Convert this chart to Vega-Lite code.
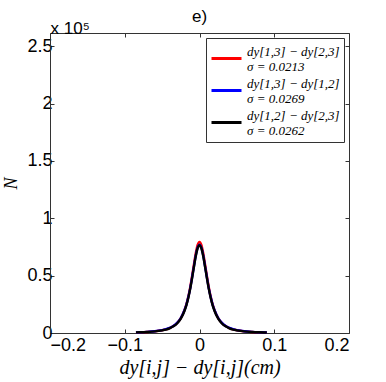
{
  "$schema": "https://vega.github.io/schema/vega-lite/v6.json",
  "width": 299,
  "height": 300,
  "autosize": {"type": "none"},
  "padding": {"left": 50, "top": 33, "right": 37, "bottom": 49},
  "background": "white",
  "title": {"text": "e)", "fontSize": 17, "fontWeight": "normal", "font": "Liberation Sans", "anchor": "middle", "offset": -6, "color": "#000"},
  "config": {
    "view": {"stroke": null},
    "axis": {
      "domainColor": "#333", "tickColor": "#333", "grid": false,
      "labelFont": "Liberation Sans", "labelFontSize": 18, "labelColor": "#000",
      "titleColor": "#000", "tickSize": -4
    }
  },
  "data": {"values": [
    {"s": "dy[1,3] − dy[2,3]|σ = 0.0213", "x": -0.085, "n": 540},
    {"s": "dy[1,3] − dy[2,3]|σ = 0.0213", "x": -0.08, "n": 640},
    {"s": "dy[1,3] − dy[2,3]|σ = 0.0213", "x": -0.07, "n": 930},
    {"s": "dy[1,3] − dy[2,3]|σ = 0.0213", "x": -0.06, "n": 1440},
    {"s": "dy[1,3] − dy[2,3]|σ = 0.0213", "x": -0.05, "n": 2400},
    {"s": "dy[1,3] − dy[2,3]|σ = 0.0213", "x": -0.045, "n": 3150},
    {"s": "dy[1,3] − dy[2,3]|σ = 0.0213", "x": -0.04, "n": 4300},
    {"s": "dy[1,3] − dy[2,3]|σ = 0.0213", "x": -0.035, "n": 6000},
    {"s": "dy[1,3] − dy[2,3]|σ = 0.0213", "x": -0.03, "n": 8700},
    {"s": "dy[1,3] − dy[2,3]|σ = 0.0213", "x": -0.025, "n": 13000},
    {"s": "dy[1,3] − dy[2,3]|σ = 0.0213", "x": -0.02, "n": 20100},
    {"s": "dy[1,3] − dy[2,3]|σ = 0.0213", "x": -0.0175, "n": 25200},
    {"s": "dy[1,3] − dy[2,3]|σ = 0.0213", "x": -0.015, "n": 31700},
    {"s": "dy[1,3] − dy[2,3]|σ = 0.0213", "x": -0.0125, "n": 39750},
    {"s": "dy[1,3] − dy[2,3]|σ = 0.0213", "x": -0.01, "n": 49300},
    {"s": "dy[1,3] − dy[2,3]|σ = 0.0213", "x": -0.0075, "n": 59600},
    {"s": "dy[1,3] − dy[2,3]|σ = 0.0213", "x": -0.005, "n": 69500},
    {"s": "dy[1,3] − dy[2,3]|σ = 0.0213", "x": -0.0025, "n": 76800},
    {"s": "dy[1,3] − dy[2,3]|σ = 0.0213", "x": 0, "n": 79500},
    {"s": "dy[1,3] − dy[2,3]|σ = 0.0213", "x": 0.0025, "n": 76800},
    {"s": "dy[1,3] − dy[2,3]|σ = 0.0213", "x": 0.005, "n": 69500},
    {"s": "dy[1,3] − dy[2,3]|σ = 0.0213", "x": 0.0075, "n": 59600},
    {"s": "dy[1,3] − dy[2,3]|σ = 0.0213", "x": 0.01, "n": 49300},
    {"s": "dy[1,3] − dy[2,3]|σ = 0.0213", "x": 0.0125, "n": 39750},
    {"s": "dy[1,3] − dy[2,3]|σ = 0.0213", "x": 0.015, "n": 31700},
    {"s": "dy[1,3] − dy[2,3]|σ = 0.0213", "x": 0.0175, "n": 25200},
    {"s": "dy[1,3] − dy[2,3]|σ = 0.0213", "x": 0.02, "n": 20100},
    {"s": "dy[1,3] − dy[2,3]|σ = 0.0213", "x": 0.025, "n": 13000},
    {"s": "dy[1,3] − dy[2,3]|σ = 0.0213", "x": 0.03, "n": 8700},
    {"s": "dy[1,3] − dy[2,3]|σ = 0.0213", "x": 0.035, "n": 6000},
    {"s": "dy[1,3] − dy[2,3]|σ = 0.0213", "x": 0.04, "n": 4300},
    {"s": "dy[1,3] − dy[2,3]|σ = 0.0213", "x": 0.045, "n": 3150},
    {"s": "dy[1,3] − dy[2,3]|σ = 0.0213", "x": 0.05, "n": 2400},
    {"s": "dy[1,3] − dy[2,3]|σ = 0.0213", "x": 0.06, "n": 1440},
    {"s": "dy[1,3] − dy[2,3]|σ = 0.0213", "x": 0.07, "n": 930},
    {"s": "dy[1,3] − dy[2,3]|σ = 0.0213", "x": 0.08, "n": 640},
    {"s": "dy[1,3] − dy[2,3]|σ = 0.0213", "x": 0.09, "n": 450},
    {"s": "dy[1,3] − dy[1,2]|σ = 0.0269", "x": -0.085, "n": 570},
    {"s": "dy[1,3] − dy[1,2]|σ = 0.0269", "x": -0.08, "n": 680},
    {"s": "dy[1,3] − dy[1,2]|σ = 0.0269", "x": -0.07, "n": 980},
    {"s": "dy[1,3] − dy[1,2]|σ = 0.0269", "x": -0.06, "n": 1500},
    {"s": "dy[1,3] − dy[1,2]|σ = 0.0269", "x": -0.05, "n": 2500},
    {"s": "dy[1,3] − dy[1,2]|σ = 0.0269", "x": -0.045, "n": 3300},
    {"s": "dy[1,3] − dy[1,2]|σ = 0.0269", "x": -0.04, "n": 4400},
    {"s": "dy[1,3] − dy[1,2]|σ = 0.0269", "x": -0.035, "n": 6100},
    {"s": "dy[1,3] − dy[1,2]|σ = 0.0269", "x": -0.03, "n": 8800},
    {"s": "dy[1,3] − dy[1,2]|σ = 0.0269", "x": -0.025, "n": 13100},
    {"s": "dy[1,3] − dy[1,2]|σ = 0.0269", "x": -0.02, "n": 20100},
    {"s": "dy[1,3] − dy[1,2]|σ = 0.0269", "x": -0.0175, "n": 24800},
    {"s": "dy[1,3] − dy[1,2]|σ = 0.0269", "x": -0.015, "n": 31300},
    {"s": "dy[1,3] − dy[1,2]|σ = 0.0269", "x": -0.0125, "n": 38700},
    {"s": "dy[1,3] − dy[1,2]|σ = 0.0269", "x": -0.01, "n": 48200},
    {"s": "dy[1,3] − dy[1,2]|σ = 0.0269", "x": -0.0075, "n": 57900},
    {"s": "dy[1,3] − dy[1,2]|σ = 0.0269", "x": -0.005, "n": 67500},
    {"s": "dy[1,3] − dy[1,2]|σ = 0.0269", "x": -0.0025, "n": 74400},
    {"s": "dy[1,3] − dy[1,2]|σ = 0.0269", "x": 0, "n": 77000},
    {"s": "dy[1,3] − dy[1,2]|σ = 0.0269", "x": 0.0025, "n": 74400},
    {"s": "dy[1,3] − dy[1,2]|σ = 0.0269", "x": 0.005, "n": 67500},
    {"s": "dy[1,3] − dy[1,2]|σ = 0.0269", "x": 0.0075, "n": 57900},
    {"s": "dy[1,3] − dy[1,2]|σ = 0.0269", "x": 0.01, "n": 48200},
    {"s": "dy[1,3] − dy[1,2]|σ = 0.0269", "x": 0.0125, "n": 38700},
    {"s": "dy[1,3] − dy[1,2]|σ = 0.0269", "x": 0.015, "n": 31300},
    {"s": "dy[1,3] − dy[1,2]|σ = 0.0269", "x": 0.0175, "n": 24800},
    {"s": "dy[1,3] − dy[1,2]|σ = 0.0269", "x": 0.02, "n": 20100},
    {"s": "dy[1,3] − dy[1,2]|σ = 0.0269", "x": 0.025, "n": 13100},
    {"s": "dy[1,3] − dy[1,2]|σ = 0.0269", "x": 0.03, "n": 8800},
    {"s": "dy[1,3] − dy[1,2]|σ = 0.0269", "x": 0.035, "n": 6100},
    {"s": "dy[1,3] − dy[1,2]|σ = 0.0269", "x": 0.04, "n": 4400},
    {"s": "dy[1,3] − dy[1,2]|σ = 0.0269", "x": 0.045, "n": 3300},
    {"s": "dy[1,3] − dy[1,2]|σ = 0.0269", "x": 0.05, "n": 2500},
    {"s": "dy[1,3] − dy[1,2]|σ = 0.0269", "x": 0.06, "n": 1500},
    {"s": "dy[1,3] − dy[1,2]|σ = 0.0269", "x": 0.07, "n": 980},
    {"s": "dy[1,3] − dy[1,2]|σ = 0.0269", "x": 0.08, "n": 680},
    {"s": "dy[1,3] − dy[1,2]|σ = 0.0269", "x": 0.09, "n": 490},
    {"s": "dy[1,2] − dy[2,3]|σ = 0.0262", "x": -0.085, "n": 520},
    {"s": "dy[1,2] − dy[2,3]|σ = 0.0262", "x": -0.08, "n": 610},
    {"s": "dy[1,2] − dy[2,3]|σ = 0.0262", "x": -0.07, "n": 900},
    {"s": "dy[1,2] − dy[2,3]|σ = 0.0262", "x": -0.06, "n": 1380},
    {"s": "dy[1,2] − dy[2,3]|σ = 0.0262", "x": -0.05, "n": 2300},
    {"s": "dy[1,2] − dy[2,3]|σ = 0.0262", "x": -0.045, "n": 3000},
    {"s": "dy[1,2] − dy[2,3]|σ = 0.0262", "x": -0.04, "n": 4100},
    {"s": "dy[1,2] − dy[2,3]|σ = 0.0262", "x": -0.035, "n": 5800},
    {"s": "dy[1,2] − dy[2,3]|σ = 0.0262", "x": -0.03, "n": 8300},
    {"s": "dy[1,2] − dy[2,3]|σ = 0.0262", "x": -0.025, "n": 12500},
    {"s": "dy[1,2] − dy[2,3]|σ = 0.0262", "x": -0.02, "n": 19400},
    {"s": "dy[1,2] − dy[2,3]|σ = 0.0262", "x": -0.0175, "n": 24250},
    {"s": "dy[1,2] − dy[2,3]|σ = 0.0262", "x": -0.015, "n": 30500},
    {"s": "dy[1,2] − dy[2,3]|σ = 0.0262", "x": -0.0125, "n": 38250},
    {"s": "dy[1,2] − dy[2,3]|σ = 0.0262", "x": -0.01, "n": 47400},
    {"s": "dy[1,2] − dy[2,3]|σ = 0.0262", "x": -0.0075, "n": 57400},
    {"s": "dy[1,2] − dy[2,3]|σ = 0.0262", "x": -0.005, "n": 66900},
    {"s": "dy[1,2] − dy[2,3]|σ = 0.0262", "x": -0.0025, "n": 73900},
    {"s": "dy[1,2] − dy[2,3]|σ = 0.0262", "x": 0, "n": 76500},
    {"s": "dy[1,2] − dy[2,3]|σ = 0.0262", "x": 0.0025, "n": 73900},
    {"s": "dy[1,2] − dy[2,3]|σ = 0.0262", "x": 0.005, "n": 66900},
    {"s": "dy[1,2] − dy[2,3]|σ = 0.0262", "x": 0.0075, "n": 57400},
    {"s": "dy[1,2] − dy[2,3]|σ = 0.0262", "x": 0.01, "n": 47400},
    {"s": "dy[1,2] − dy[2,3]|σ = 0.0262", "x": 0.0125, "n": 38250},
    {"s": "dy[1,2] − dy[2,3]|σ = 0.0262", "x": 0.015, "n": 30500},
    {"s": "dy[1,2] − dy[2,3]|σ = 0.0262", "x": 0.0175, "n": 24250},
    {"s": "dy[1,2] − dy[2,3]|σ = 0.0262", "x": 0.02, "n": 19400},
    {"s": "dy[1,2] − dy[2,3]|σ = 0.0262", "x": 0.025, "n": 12500},
    {"s": "dy[1,2] − dy[2,3]|σ = 0.0262", "x": 0.03, "n": 8300},
    {"s": "dy[1,2] − dy[2,3]|σ = 0.0262", "x": 0.035, "n": 5800},
    {"s": "dy[1,2] − dy[2,3]|σ = 0.0262", "x": 0.04, "n": 4100},
    {"s": "dy[1,2] − dy[2,3]|σ = 0.0262", "x": 0.045, "n": 3000},
    {"s": "dy[1,2] − dy[2,3]|σ = 0.0262", "x": 0.05, "n": 2300},
    {"s": "dy[1,2] − dy[2,3]|σ = 0.0262", "x": 0.06, "n": 1380},
    {"s": "dy[1,2] − dy[2,3]|σ = 0.0262", "x": 0.07, "n": 900},
    {"s": "dy[1,2] − dy[2,3]|σ = 0.0262", "x": 0.08, "n": 610},
    {"s": "dy[1,2] − dy[2,3]|σ = 0.0262", "x": 0.09, "n": 440}
  ]},
  "layer": [
    {
      "mark": {"type": "line", "strokeWidth": 2.4, "interpolate": "monotone"},
      "encoding": {
        "x": {"field": "x", "type": "quantitative",
          "scale": {"domain": [-0.2, 0.2], "nice": false},
          "axis": {"values": [-0.2, -0.1, 0, 0.1, 0.2], "format": "~g", "labelPadding": 7,
            "title": "dy[i,j] − dy[i,j](cm)", "titleFont": "Liberation Serif", "titleFontStyle": "italic",
            "titleFontWeight": "normal", "titleFontSize": 20, "titlePadding": 3}},
        "y": {"field": "n", "type": "quantitative",
          "scale": {"domain": [0, 261600], "nice": false},
          "axis": {"values": [0, 50000, 100000, 150000, 200000, 250000],
            "labelExpr": "'' + datum.value / 100000", "labelPadding": 2,
            "title": "N", "titleFont": "Liberation Serif", "titleFontStyle": "italic",
            "titleFontWeight": "normal", "titleFontSize": 18, "titlePadding": 6}},
        "color": {"field": "s", "type": "nominal",
          "scale": {"domain": ["dy[1,3] − dy[2,3]|σ = 0.0213", "dy[1,3] − dy[1,2]|σ = 0.0269", "dy[1,2] − dy[2,3]|σ = 0.0262"],
            "range": ["#ff0000", "#0000ff", "#000000"]},
          "legend": {"orient": "top-right", "offset": 5, "title": null,
            "strokeColor": "#333", "fillColor": "white", "padding": 4,
            "symbolType": "stroke", "symbolSize": 900, "symbolStrokeWidth": 3,
            "labelFont": "Liberation Serif", "labelFontStyle": "italic", "labelFontSize": 13,
            "labelBaseline": "bottom",
            "labelColor": "#000", "labelLimit": 200, "rowPadding": 0, "labelOffset": 4,
            "labelExpr": "[split(datum.label, '|')[0], '\u2007\u2007\u2007' + split(datum.label, '|')[1]]"}}
      }
    },
    {
      "mark": {"type": "line", "opacity": 0},
      "encoding": {
        "x": {"field": "x", "type": "quantitative",
          "axis": {"orient": "top", "values": [-0.2, -0.1, 0, 0.1, 0.2], "labels": false,
            "title": "x 10⁵", "titleAnchor": "start", "titleAlign": "left",
            "titleFont": "Liberation Sans", "titleFontSize": 17, "titleFontWeight": "normal", "titlePadding": -5}},
        "y": {"field": "n", "type": "quantitative",
          "axis": {"orient": "right", "values": [0, 50000, 100000, 150000, 200000, 250000], "labels": false, "title": null}},
        "detail": {"field": "s"}
      }
    }
  ],
  "resolve": {"axis": {"x": "independent", "y": "independent"}}
}
